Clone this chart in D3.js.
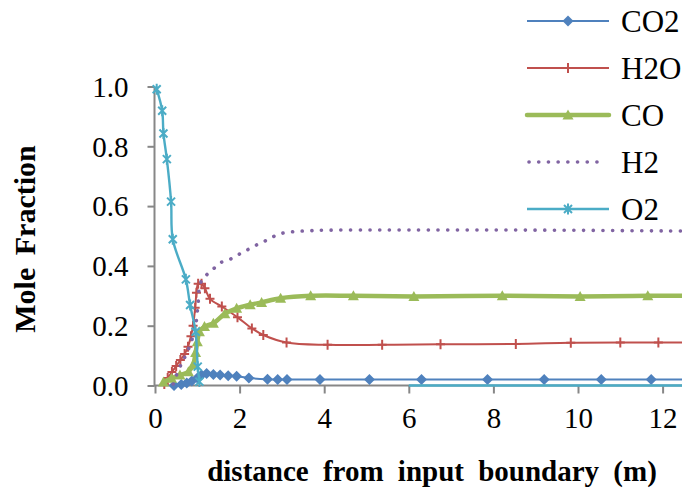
<!DOCTYPE html>
<html>
<head>
<meta charset="utf-8">
<script src="https://cdn.jsdelivr.net/npm/d3@7"></script>
<style>
  html, body { margin: 0; padding: 0; background: #fff; }
  svg { display: block; }
  svg text { font-family: "Liberation Serif", "Tinos", "Times New Roman", "Nimbus Roman", "DejaVu Serif", serif; }
</style>
</head>
<body>
<svg id="chart" width="682" height="491"></svg>
<script>
// Mole fractions of species along the distance from the input boundary (m)
const co2X = [0.45, 0.62, 0.75, 0.87, 1.0, 1.1, 1.22, 1.38, 1.54, 1.73, 1.93, 2.22, 2.66, 2.9, 3.12, 3.9, 5.07, 6.3, 7.86, 9.2, 10.55, 11.73, 13.0];
const co2Y = [0.0, 0.003, 0.008, 0.015, 0.025, 0.035, 0.04, 0.037, 0.035, 0.033, 0.031, 0.025, 0.021, 0.02, 0.02, 0.02, 0.02, 0.02, 0.02, 0.02, 0.02, 0.02, 0.02];

const h2oX = [0.22, 0.3, 0.4, 0.5, 0.6, 0.7, 0.78, 0.85, 0.9, 0.95, 0.98, 1.02, 1.1, 1.18, 1.3, 1.58, 1.95, 2.29, 2.56, 3.11, 4.08, 5.37, 6.75, 8.53, 9.83, 11.0, 11.9, 13.2];
const h2oY = [0.005, 0.025, 0.045, 0.065, 0.085, 0.105, 0.13, 0.165, 0.2, 0.26, 0.31, 0.34, 0.34, 0.325, 0.29, 0.264, 0.228, 0.191, 0.169, 0.144, 0.136, 0.136, 0.138, 0.139, 0.143, 0.144, 0.144, 0.144];

const coX = [0.2, 0.39, 0.59, 0.79, 0.9, 0.96, 1.0, 1.05, 1.17, 1.38, 1.65, 1.93, 2.25, 2.52, 2.97, 3.68, 4.69, 6.12, 8.21, 10.05, 11.65, 13.2];
const coY = [0.012, 0.024, 0.035, 0.046, 0.069, 0.11, 0.146, 0.18, 0.197, 0.208, 0.24, 0.258, 0.27, 0.278, 0.292, 0.3, 0.3, 0.298, 0.3, 0.298, 0.3, 0.3];

const h2X = [0.43, 0.55, 0.65, 0.75, 0.87, 0.95, 0.98, 1.02, 1.05, 1.12, 1.22, 1.38, 1.54, 1.77, 2.0, 2.2, 2.4, 2.6, 2.8, 3.0, 3.25, 3.7, 4.5, 6, 8, 10, 12, 14];
const h2Y = [0.005, 0.05, 0.08, 0.108, 0.152, 0.19, 0.22, 0.275, 0.33, 0.355, 0.37, 0.39, 0.41, 0.422, 0.44, 0.455, 0.47, 0.483, 0.498, 0.509, 0.514, 0.518, 0.52, 0.52, 0.52, 0.519, 0.517, 0.516];

const o2X = [0.04, 0.17, 0.2, 0.28, 0.38, 0.42, 0.73, 0.83, 0.96, 1.01, 1.05];
const o2Y = [0.991, 0.919, 0.843, 0.757, 0.615, 0.489, 0.355, 0.269, 0.18, 0.063, 0.013];
// O2 stays at zero further downstream
const o2TailX = [6.0, 14];
const o2TailY = [0, 0];

const seriesNames = ["CO2", "H2O", "CO", "H2", "O2"];
const xTicks = [0, 2, 4, 6, 8, 10, 12];
const yTicks = [0, 0.2, 0.4, 0.6, 0.8, 1.0];

const svg = d3.select("#chart");

const x = d3.scaleLinear().domain([0, 14]).range([155, 155 + 14 * 42.3]);
const y = d3.scaleLinear().domain([0, 1]).range([385.5, 86.5]);

const axisColor = "#878787";

// y axis
const gy = svg.append("g")
  .attr("transform", `translate(${x(0) - 0.5},0)`)
  .call(d3.axisLeft(y).tickValues(yTicks).tickFormat(d3.format(".1f")).tickSize(7).tickPadding(19));
gy.attr("font-family", null).attr("font-size", null);
gy.select(".domain").attr("stroke", axisColor).attr("stroke-width", 2).attr("d", `M0,${y(0)}V${y(1)}`);
gy.selectAll(".tick line").attr("stroke", axisColor).attr("stroke-width", 2);
gy.selectAll(".tick text").attr("font-size", 29).attr("fill", "#000").attr("dy", "0.34em");

// x axis
const gx = svg.append("g")
  .attr("transform", `translate(0,${y(0)})`)
  .call(d3.axisBottom(x).tickValues(xTicks).tickFormat(d3.format("d")).tickSize(8).tickPadding(14));
gx.attr("font-family", null).attr("font-size", null);
gx.select(".domain").attr("stroke", axisColor).attr("stroke-width", 2).attr("d", `M${x(0) - 1},0H${x(14)}`);
gx.selectAll(".tick line").attr("stroke", axisColor).attr("stroke-width", 2);
gx.selectAll(".tick text").attr("font-size", 29).attr("fill", "#000");

// axis titles
svg.append("text")
  .attr("x", 432).attr("y", 481)
  .attr("text-anchor", "middle")
  .attr("font-size", 29).attr("font-weight", "bold")
  .attr("word-spacing", 7)
  .text("distance from input boundary (m)");

svg.append("text")
  .attr("transform", "translate(35,239) rotate(-90)")
  .attr("text-anchor", "middle")
  .attr("font-size", 30).attr("font-weight", "bold")
  .attr("word-spacing", 5)
  .text("Mole Fraction");

const curve = d3.curveCatmullRom.alpha(0.5);
const line = d3.line().x(d => x(d[0])).y(d => y(d[1])).curve(curve);

const zipXY = (xs, ys) => xs.map((v, i) => [v, ys[i]]);

// marker shapes
const markers = {
  diamond: (g, color) => g.append("path").attr("d", "M0,-5.5L5.5,0L0,5.5L-5.5,0Z").attr("fill", color),
  plus: (g, color) => g.append("path").attr("d", "M-4.5,0H4.5M0,-5V5").attr("stroke", color).attr("stroke-width", 2).attr("fill", "none"),
  triangle: (g, color) => g.append("path").attr("d", "M0,-5.5L5.5,4.5L-5.5,4.5Z").attr("fill", color),
  star: (g, color) => g.append("path").attr("d", "M-4,-4L4,4M-4,4L4,-4M0,-5.5V5.5").attr("stroke", color).attr("stroke-width", 2).attr("fill", "none"),
  none: () => {}
};

const series = [
  { name: seriesNames[0], data: zipXY(co2X, co2Y), color: "#4F81BD", width: 2, marker: "diamond" },
  { name: seriesNames[1], data: zipXY(h2oX, h2oY), color: "#C0504D", width: 2, marker: "plus" },
  { name: seriesNames[2], data: zipXY(coX, coY), color: "#9BBB59", width: 4.5, marker: "triangle" },
  { name: seriesNames[3], data: zipXY(h2X, h2Y), color: "#8064A2", width: 3.6, marker: "none", dash: "0.1 9.6" },
  { name: seriesNames[4], data: zipXY(o2X, o2Y), color: "#4BACC6", width: 2.4, marker: "star" }
];

const plot = svg.append("g");

series.forEach(s => {
  const g = plot.append("g");
  g.append("path")
    .datum(s.data)
    .attr("d", line)
    .attr("fill", "none")
    .attr("stroke", s.color)
    .attr("stroke-width", s.width)
    .attr("stroke-linecap", s.dash ? "round" : "butt")
    .attr("stroke-dasharray", s.dash || null);
  if (s.name === "O2") {
    g.append("path")
      .datum(zipXY(o2TailX, o2TailY))
      .attr("d", d3.line().x(d => x(d[0])).y(d => y(d[1])))
      .attr("fill", "none")
      .attr("stroke", s.color)
      .attr("stroke-width", s.width);
  }
  s.data.forEach(d => {
    const m = g.append("g").attr("transform", `translate(${x(d[0])},${y(d[1])})`);
    markers[s.marker](m, s.color);
  });
});

// legend
const legend = svg.append("g");
const legendY = d3.scalePoint().domain(seriesNames).range([21, 209]);
series.forEach(s => {
  const cy = legendY(s.name);
  const g = legend.append("g").attr("transform", `translate(0,${cy})`);
  if (s.dash) {
    g.append("line").attr("x1", 529).attr("x2", 601).attr("y1", 0).attr("y2", 0)
      .attr("stroke", s.color).attr("stroke-width", s.width)
      .attr("stroke-linecap", "round").attr("stroke-dasharray", s.dash);
  } else {
    g.append("line").attr("x1", 527).attr("x2", 609).attr("y1", 0).attr("y2", 0)
      .attr("stroke", s.color).attr("stroke-width", s.width)
      .attr("stroke-linecap", s.width > 3 ? "round" : "butt");
  }
  const m = g.append("g").attr("transform", "translate(568,0)");
  markers[s.marker](m, s.color);
  g.append("text").attr("x", 621).attr("y", 10.5)
    .attr("font-size", 31).attr("fill", "#000").text(s.name);
});
</script>
</body>
</html>
